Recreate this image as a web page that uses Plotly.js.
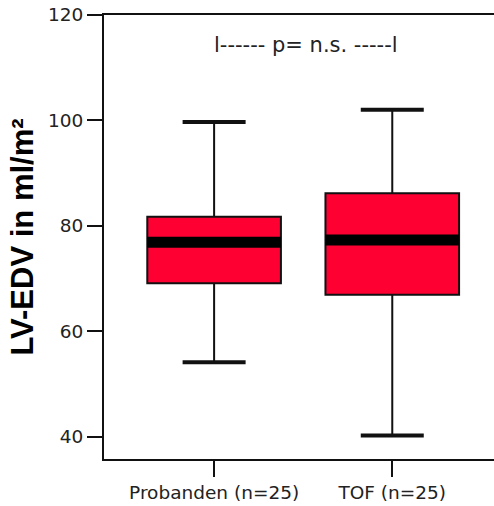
<!DOCTYPE html>
<html>
<head>
<meta charset="utf-8">
<script src="https://cdn.plot.ly/plotly-3.0.1.min.js"></script>
<style>html,body{margin:0;padding:0;background:#fff;}#chart{width:494px;height:506px;}</style>
</head>
<body>
<div id="chart"></div>
<script>
const categories = ["Probanden (n=25)", "TOF (n=25)"];
const lowerWhisker = [54.1, 40.2];
const q1 = [69.1, 66.9];
const median = [76.9, 77.3];
const q3 = [81.7, 86.2];
const upperWhisker = [99.7, 102.0];
const yTicks = [40, 60, 80, 100, 120];
const annotationText = "l------ p= n.s. -----l";

const boxTrace = {
  type: "box",
  x: categories,
  q1: q1,
  median: median,
  q3: q3,
  lowerfence: lowerWhisker,
  upperfence: upperWhisker,
  width: 0.75,
  whiskerwidth: 0.34,
  fillcolor: "#ff0033",
  line: {color: "#111", width: 2},
  boxpoints: false,
  hoverinfo: "skip",
  showlegend: false
};

const capTrace = {
  type: "scatter",
  mode: "markers",
  x: categories.concat(categories),
  y: upperWhisker.concat(lowerWhisker),
  marker: {symbol: "line-ew", size: 45, line: {width: 4, color: "#111"}},
  hoverinfo: "skip",
  showlegend: false
};

const medianShapes = categories.map((c, i) => ({
  type: "line", xref: "x", yref: "y", layer: "above",
  x0: i - 0.375, x1: i + 0.375, y0: median[i], y1: median[i],
  line: {color: "#000", width: 11}
}));

const layout = {
  width: 494, height: 506,
  margin: {l: 104, r: 0, t: 15, b: 47},
  paper_bgcolor: "#fff", plot_bgcolor: "#fff",
  showlegend: false,
  xaxis: {
    type: "category",
    range: [-0.618, 1.571],
    showline: true, linecolor: "#111", linewidth: 2, mirror: true,
    ticks: "outside", ticklen: 16, tickwidth: 2, tickcolor: "#111",
    showgrid: false, zeroline: false,
    tickfont: {family: "DejaVu Sans", size: 18.5, color: "#222"}
  },
  yaxis: {
    range: [35.76, 120],
    tickvals: yTicks,
    ticktext: yTicks.map(String),
    showline: true, linecolor: "#111", linewidth: 2,
    ticks: "outside", ticklen: 15, tickwidth: 2, tickcolor: "#111",
    showgrid: false, zeroline: false,
    tickfont: {family: "DejaVu Sans", size: 18.5, color: "#222"},
    title: {text: "LV-EDV in ml/m²", standoff: 5,
      font: {family: "Liberation Sans, Arial", size: 31, color: "#000", weight: "bold"}}
  },
  shapes: medianShapes,
  annotations: [{
    xref: "paper", yref: "y",
    x: (306 - 104) / 390, y: 114.4,
    text: annotationText, showarrow: false,
    xanchor: "center", yanchor: "middle",
    font: {family: "DejaVu Sans", size: 21, color: "#222"}
  }]
};

Plotly.newPlot("chart", [boxTrace, capTrace], layout, {staticPlot: true, displayModeBar: false});
</script>
</body>
</html>
